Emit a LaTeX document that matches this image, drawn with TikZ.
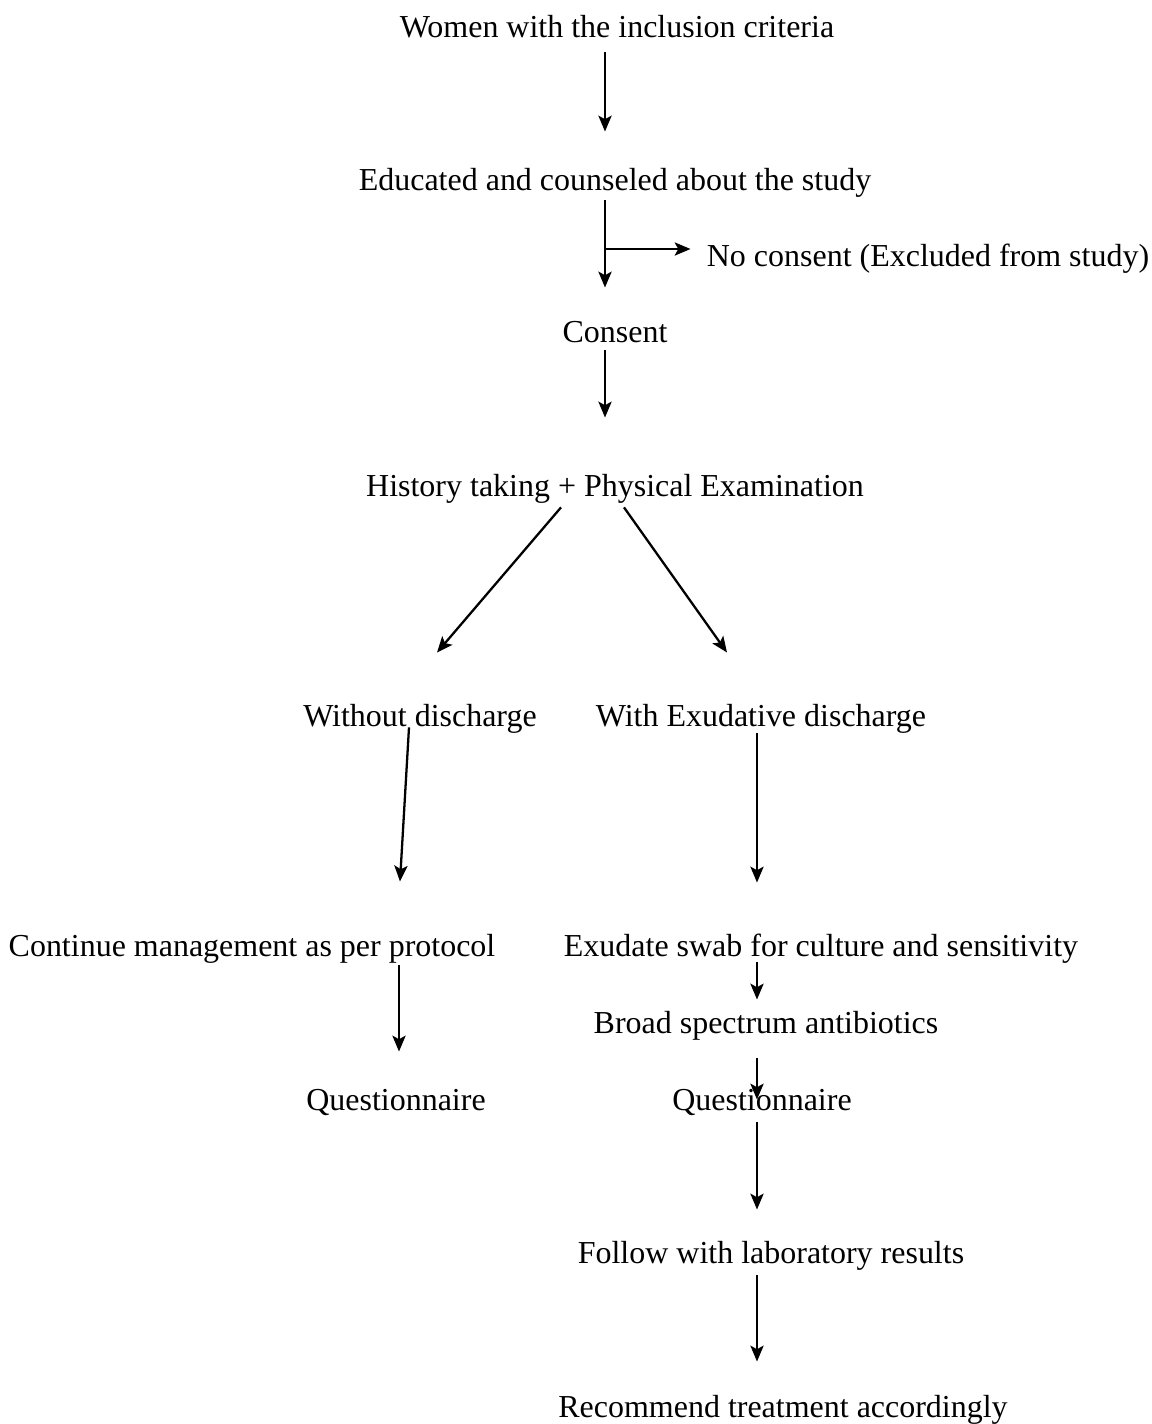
\documentclass[tikz,border=0pt]{standalone}
\usepackage{fontspec}
\setmainfont{Liberation Serif}
\usetikzlibrary{arrows.meta,calc}

\begin{document}
\begin{tikzpicture}[x=0.02cm, y=-0.02cm,
    every node/.style={font=\fontsize{18.2}{21}\selectfont, inner sep=0pt,
        text height=12.6pt, text depth=4pt, anchor=base},
    flow/.style={-{Stealth[length=9pt, width=7.5pt, inset=2pt]}, line width=1.3pt}]
    \useasboundingbox (0,0) rectangle (1152,1424);

    % main column
    \node (women) at (617,37) {Women with the inclusion criteria};
    \node (educated) at (615,190) {Educated and counseled about the study};
    \node (noconsent) at (928,266) {No consent (Excluded from study)};
    \node (consent) at (615,342) {Consent};
    \node (history) at (615,496) {History taking + Physical Examination};
    % two branches
    \node (without) at (420,726) {Without discharge};
    \node (with) at (761,726) {With Exudative discharge};
    \node (continue) at (252,956) {Continue management as per protocol};
    \node (exudate) at (821,956) {Exudate swab for culture and sensitivity};
    \node (broad) at (766,1033) {Broad spectrum antibiotics};
    \node (qleft) at (396,1110) {Questionnaire};
    \node (qright) at (762,1110) {Questionnaire};
    \node (follow) at (771,1263) {Follow with laboratory results};
    \node (recommend) at (783,1417) {Recommend treatment accordingly};

    \coordinate (mid) at (605,0);
    \coordinate (llane) at (399,0);
    \coordinate (rlane) at (757,0);
    \coordinate (fork) at (605,249);

    \draw[flow] ($(women.south -| mid)+(0,8)$) -- ($(educated.north -| mid)+(0,-36)$);
    \draw[flow] ($(educated.south -| mid)+(0,3)$) -- ($(consent.north -| mid)+(0,-32)$);
    \draw[flow] (fork) -- ($(noconsent.west |- fork)+(-16,0)$);
    \draw[flow] ($(consent.south -| mid)+(0,1)$) -- ($(history.north -| mid)+(0,-56)$);

    \draw[flow] ($(history.south)+(-54,4)$) -- ($(without.north)+(17,-51)$);
    \draw[flow] ($(history.south)+(9,4)$) -- ($(with.north)+(-34,-51)$);

    \draw[flow] ($(without.south)+(-11,-6)$) -- ($(continue.north)+(148,-52)$);
    \draw[flow] ($(with.south -| rlane)+(0,0)$) -- ($(exudate.north -| rlane)+(0,-51)$);

%    \draw[flow] (continue) -- (qleft);
    \draw[flow] ($(continue.south -| llane)+(0,2)$) -- ($(qleft.north -| llane)+(0,-36)$);
    \draw[flow] ($(exudate.south -| rlane)+(0,-1)$) -- ($(broad.north -| rlane)+(0,-11)$);
    \draw[flow] ($(broad.south -| rlane)+(0,18)$) -- ($(qright.north -| rlane)+(0,12)$);
    \draw[flow] ($(qright.south -| rlane)+(0,5)$) -- ($(follow.north -| rlane)+(0,-31)$);
    \draw[flow] ($(follow.south -| rlane)+(0,5)$) -- ($(recommend.north -| rlane)+(0,-33)$);
\end{tikzpicture}
\end{document}
